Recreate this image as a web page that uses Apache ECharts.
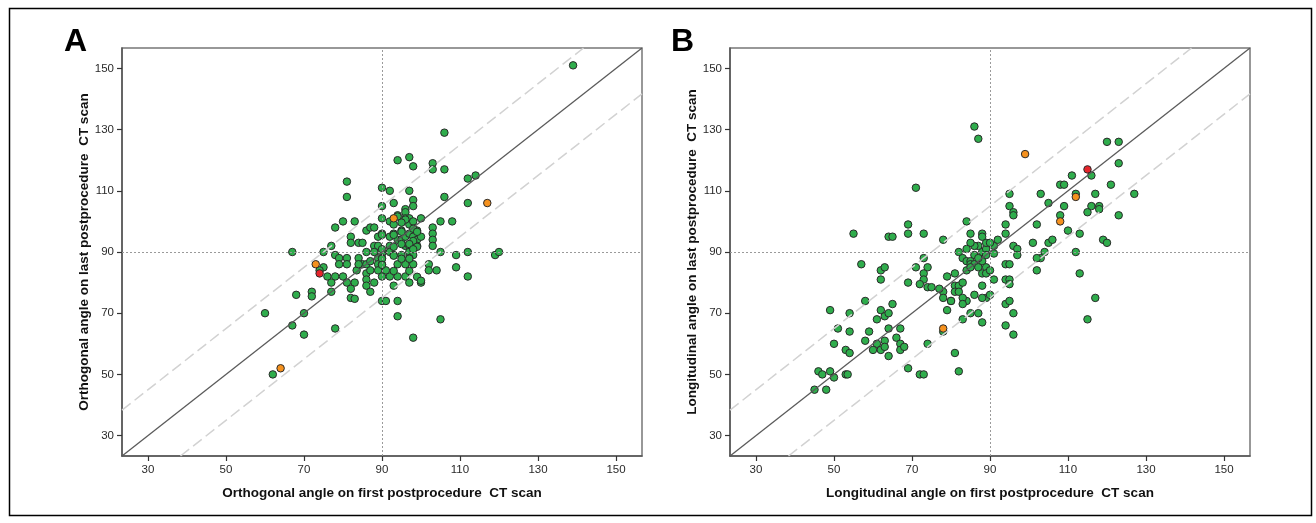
<!DOCTYPE html>
<html><head><meta charset="utf-8">
<script src="https://cdn.jsdelivr.net/npm/echarts@6/dist/echarts.min.js"></script>
<style>html,body{margin:0;padding:0;background:#fff;}#c{width:1316px;height:523px;}</style>
</head><body><div id="c"></div>
<script>
// ---------- data ----------
const tickValues = [30, 50, 70, 90, 110, 130, 150];
const refValue = 90;
const limitOffset = 15;

const panelATitleX = "Orthogonal angle on first postprocedure  CT scan";
const panelATitleY = "Orthogonal angle on last postprocedure  CT scan";
const panelBTitleX = "Longitudinal angle on first postprocedure  CT scan";
const panelBTitleY = "Longitudinal angle on last postprocedure  CT scan";

const aGreen = [
[139,151],[106,129],[94,120],[97,121],[98,118],[103,119],[103,117],[106,117],[81,113],[81,108],
[90,111],[92,110],[97,110],[112,114],[114,115],[106,108],[112,106],[90,105],[93,106],[98,107],
[98,105],[96,104],[94,102],[96,103],[96,101],[97,101],[100,101],[90,101],[80,100],[83,100],
[78,98],[86,97],[87,98],[88,98],[92,100],[93,99],[95,97],[97,99],[98,100],[99,97],
[103,98],[103,96],[103,94],[103,92],[105,100],[108,100],[82,95],[82,93],[84,93],[85,93],
[77,92],[89,95],[90,96],[92,95],[93,96],[94,94],[95,94],[96,95],[97,96],[98,95],
[99,94],[100,95],[98,93],[96,92],[92,92],[88,92],[89,92],[97,92],[99,92],[75,90],
[67,90],[86,90],[88,90],[90,89.5],[92,90],[93,89],[95,89],[97,90],[98,89],[78,89],
[79,88],[81,88],[84,88],[89,88],[90,88],[97,88],[105,90],[109,89],[112,90],[119,89],
[120,90],[79,86],[81,86],[85,86],[86,86],[87,87],[89,86],[90,86],[94,86],[96,86],
[98,86],[89,84],[75,85],[76,82],[78,82],[80,82],[90,82],[92,82],[94,82],[96,82],
[86,83],[83.5,84],[91,84],[102,86],[102,84],[104,84],[109,85],[112,82],[77,80],[81,80],
[83,80],[86,81],[86,79],[97,80],[100,80],[93,79],[77,77],[82,78],[82,75],[87,77],
[90,74],[94,74],[68,76],[72,77],[72,75.5],[83,74.7],[91,74],[94,69],[98,62],[105,68],
[74,84],[60,70],[70,70],[67,66],[70,63],[78,65],[62,50],[96,100.6],[94,101.6],[95,99.6],
[98,97.6],[99,96.6],[95,96.6],[93,95.6],[90,95.6],[98,93.6],[97,92.6],[95,92.6],[93,91.7],[99,91.7],
[98,90.9],[90,90.9],[95,87.8],[97,87.8],[93,88.8],[90,87.8],[90,85.8],[97,83.8],[93,83.8],[99,81.9],
[100,80.6],[87,84],[84,86],[88,80]
];
const aOrange = [[93,101],[73,86],[117,106],[64,52]];
const aRed = [[74,83]];

const bGreen = [
[45,45],[48,45],[46,51],[47,50],[49,51],[50,49],[53,50],[53.5,50],[49,71],[51,65],
[54,64],[54,70],[50,60],[53,58],[54,57],[58,61],[59,64],[61,68],[62,71],[63,69],
[64,70],[65,73],[61,60],[60,58],[62,58],[63,61],[63,59],[64,65],[64,56],[66,62],
[67,65],[67,60],[67,58],[68,59],[69,52],[72,50],[73,50],[74,60],[78,64],[81,57],
[82,51],[79,71],[80,74],[83,68],[85,70],[87,70],[88,67],[84,74],[94,73],[96,70],
[94,66],[96,63],[58,74],[86,131],[87,127],[71,111],[55,96],[64,95],[65,95],[69,99],
[69,96],[73,96],[78,94],[84,100],[85,96],[88,96],[95,109],[95,105],[96,103],[96,102],
[94,99],[94,96],[103,109],[105,106],[108,112],[109,112],[109,105],[108,102],[110,97],[102,99],
[101,93],[105,93],[106,94],[104,90],[103,88],[102,84],[96,92],[97,91],[97,89],[88,90],
[86,89],[89,91],[87,92],[86,92],[85,93],[89,93],[91,92],[89,89],[91,89.5],[82,90],
[83,88],[84,87],[85,87],[85,86],[86,86],[88,87],[73,88],[74,85],[71,85],[73,83],
[73,81],[72,79.5],[74,78.5],[75,78.5],[57,86],[62,84],[63,85],[62,81],[69,80],[79,82],
[81,83],[84,84],[85,85],[87,85],[88,83],[89,85],[89,83],[91,81],[88,79],[81,79],
[82,79],[83,80],[81,77],[82,77],[78,77],[78,75],[77,78],[80,74],[83,75],[86,76],
[89,75],[90,76],[94,86],[95,86],[94,81],[95,81],[95,79.5],[95,74],[120,126],[123,126],
[123,119],[116,115],[111,115],[121,112],[112,109],[117,109],[127,109],[116,105],[118,105],[118,104],
[115,103],[123,102],[113,96],[119,94],[120,93],[112,90],[102,88],[113,83],[117,75],[115,68],
[88,75],[83,73],[88,95],[90,93],[92,94],[84,91],[87,88],[90,84]
];
const bOrange = [[99,122],[108,100],[112,108],[78,65]];
const bRed = [[115,117]];

// ---------- chart ----------
const AMIN = 23.33, AMAX = 156.67;
const chart = echarts.init(document.getElementById('c'), null, {renderer: 'canvas'});

const tickFont = "'Liberation Sans Narrow','Arial Narrow','Liberation Sans',sans-serif";
const titleFont = "'Liberation Sans',Arial,sans-serif";

function xAxisFor(idx, name) {
  return {
    type: 'value', gridIndex: idx, min: AMIN, max: AMAX,
    name: name, nameLocation: 'middle', nameGap: 30,
    nameTextStyle: {fontFamily: titleFont, fontWeight: 'bold', fontSize: 13.5, color: '#111'},
    axisLine: {show: true, onZero: false, lineStyle: {color: '#555', width: 1.5}},
    axisTick: {show: true, length: 5, customValues: tickValues, lineStyle: {color: '#333', width: 1.2}},
    axisLabel: {customValues: tickValues, margin: 8, fontFamily: tickFont, fontSize: 11.5, color: '#2a2a2a'},
    splitLine: {show: false}
  };
}
function yAxisFor(idx, name) {
  return {
    type: 'value', gridIndex: idx, min: AMIN, max: AMAX,
    name: name, nameLocation: 'middle', nameGap: 30,
    nameTextStyle: {fontFamily: titleFont, fontWeight: 'bold', fontSize: 13.5, color: '#111'},
    axisLine: {show: true, onZero: false, lineStyle: {color: '#555', width: 1.5}},
    axisTick: {show: true, length: 5, customValues: tickValues, lineStyle: {color: '#333', width: 1.2}},
    axisLabel: {customValues: tickValues, margin: 8, fontFamily: tickFont, fontSize: 11.5, color: '#2a2a2a'},
    splitLine: {show: false}
  };
}

function pointSeries(idx, data, color, z) {
  return {
    type: 'scatter', xAxisIndex: idx, yAxisIndex: idx, data: data,
    symbol: 'circle', symbolSize: 7.5, z: z,
    itemStyle: {color: color, borderColor: '#2a2a2a', borderWidth: 1, opacity: 1},
    emphasis: {disabled: true}, silent: true
  };
}
function refSeries(idx) {
  const lo = AMIN, hi = AMAX, d = limitOffset;
  return [
    {type: 'line', xAxisIndex: idx, yAxisIndex: idx, data: [[lo, lo + d], [hi - d, hi]],
     symbol: 'none', silent: true, z: 6,
     lineStyle: {color: '#d2d2d2', width: 1.5, type: [11, 5]}},
    {type: 'line', xAxisIndex: idx, yAxisIndex: idx, data: [[lo + d, lo], [hi, hi - d]],
     symbol: 'none', silent: true, z: 6,
     lineStyle: {color: '#d2d2d2', width: 1.5, type: [11, 5]}},
    {type: 'line', xAxisIndex: idx, yAxisIndex: idx, data: [[lo, lo], [hi, hi]],
     symbol: 'none', silent: true, z: 7,
     lineStyle: {color: '#5a5a5a', width: 1.3},
     markLine: {silent: true, symbol: 'none', label: {show: false},
       lineStyle: {color: '#9a9a9a', width: 1, type: [2, 2]},
       data: [{xAxis: refValue}, {yAxis: refValue}]}}
  ];
}

const option = {
  animation: false,
  backgroundColor: '#ffffff',
  grid: [
    {left: 122, top: 48, width: 520, height: 408, show: true, borderColor: '#777', borderWidth: 1.5, backgroundColor: 'transparent'},
    {left: 730, top: 48, width: 520, height: 408, show: true, borderColor: '#777', borderWidth: 1.5, backgroundColor: 'transparent'}
  ],
  xAxis: [xAxisFor(0, panelATitleX), xAxisFor(1, panelBTitleX)],
  yAxis: [yAxisFor(0, panelATitleY), yAxisFor(1, panelBTitleY)],
  graphic: [
    {type: 'rect', left: 7, top: 6, shape: {width: 1302, height: 507},
     style: {fill: 'none', stroke: '#000', lineWidth: 1.5}, silent: true},
    {type: 'text', left: 64, top: 26, style: {text: 'A', font: "bold 32px 'Liberation Sans', Arial, sans-serif", fill: '#000'}},
    {type: 'text', left: 671, top: 26, style: {text: 'B', font: "bold 32px 'Liberation Sans', Arial, sans-serif", fill: '#000'}}
  ],
  series: [
    pointSeries(0, aGreen, '#2fad4c', 3),
    pointSeries(0, aOrange, '#f5911e', 4),
    pointSeries(0, aRed, '#e5252b', 4),
    ...refSeries(0),
    pointSeries(1, bGreen, '#2fad4c', 3),
    pointSeries(1, bOrange, '#f5911e', 4),
    pointSeries(1, bRed, '#e5252b', 4),
    ...refSeries(1)
  ]
};
chart.setOption(option);
</script>
</body></html>
